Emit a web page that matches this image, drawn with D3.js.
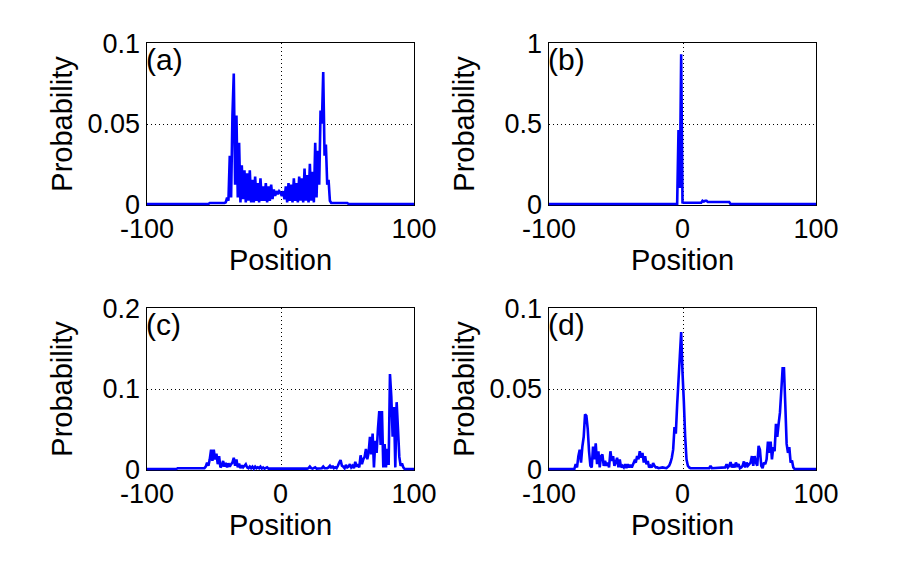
<!DOCTYPE html>
<html>
<head>
<meta charset="utf-8">
<script src="https://cdn.jsdelivr.net/npm/d3@7"></script>
<style>
  body { margin: 0; background: #fff; }
  text { font-family: "Liberation Sans", Arial, Helvetica, sans-serif; fill: #000; }
</style>
</head>
<body>
<div id="chart"></div>
<script>
// figure size
const svgWidth = 914;
const svgHeight = 561;

// x ticks shared by all panels
const xTicks = [-100, 0, 100];
const xTickLabels = ["-100", "0", "100"];

// panel titles
const panelNames = ["(a)", "(b)", "(c)", "(d)"];

// y ticks per panel
const yTicksA = [0, 0.05, 0.1];
const yTickLabelsA = ["0", "0.05", "0.1"];
const yTicksB = [0, 0.5, 1];
const yTickLabelsB = ["0", "0.5", "1"];
const yTicksC = [0, 0.1, 0.2];
const yTickLabelsC = ["0", "0.1", "0.2"];
const yTicksD = [0, 0.05, 0.1];
const yTickLabelsD = ["0", "0.05", "0.1"];

// (a) positions and probabilities
const posA = [-100, -54, -53, -42,
  -41, -40, -39, -38, -37, -36, -35, -34, -33, -32, -31, -30, -29, -28, -27, -26, -25, -24, -23, -22, -21,
  -20, -19, -18, -17, -16, -15, -14, -13, -12, -11, -10, -9, -8, -7, -6, -5, -4, -3, -2, -1, 0,
  1, 2, 3, 4, 5, 6, 7, 8, 9, 10, 11, 12, 13, 14, 15, 16, 17, 18, 19, 20,
  21, 22, 23, 24, 25, 26, 27, 28, 29, 30, 31, 32, 33, 34, 35, 36, 37, 38, 50, 51, 100];
const probA = [0, 0, 0.0006, 0.0006,
  0.001, 0.004, 0.002, 0.03, 0.004, 0.055, 0.081, 0.012, 0.055, 0.004, 0.038, 0.001, 0.024, 0.003, 0.021, 0.001, 0.019, 0.002, 0.021, 0.001, 0.015,
  0.001, 0.017, 0.002, 0.013, 0.001, 0.016, 0.002, 0.011, 0.002, 0.013, 0.001, 0.011, 0.002, 0.012, 0.003, 0.009, 0.005, 0.008, 0.006, 0.008, 0.007,
  0.005, 0.008, 0.003, 0.011, 0.001, 0.013, 0.002, 0.012, 0.001, 0.016, 0.002, 0.013, 0.001, 0.017, 0.002, 0.016, 0.001, 0.022, 0.002, 0.018,
  0.001, 0.025, 0.002, 0.02, 0.001, 0.038, 0.004, 0.033, 0.012, 0.058, 0.05, 0.082, 0.03, 0.037, 0.012, 0.015, 0.002, 0.0006, 0.0006, 0, 0];

// (b)
const posB = [-100, -4, -3, -2, -1, 0, 1, 14, 15, 16, 17, 18, 19, 35, 36, 100];
const probB = [0, 0, 0.46, 0.1, 0.93, 0.01, 0.008, 0.008, 0.02, 0.015, 0.02, 0.02, 0.012, 0.012, 0, 0];

// (c)
const posC = [-100, -78, -77, -57,
  -56, -55, -54, -53, -52, -51, -50, -49, -48, -47, -46, -45, -44, -43, -42, -41, -40, -39, -38, -37, -36,
  -35, -34, -33, -32, -31, -30, -29, -28, -27, -26, -25, -24, -23, -22, -21, -20, -19, -18, -17, -16,
  -15, -14, -13, -12, -10, -9, 20, 21, 22, 23, 24, 26, 27, 31, 32, 33,
  35, 36, 37, 38, 39, 40, 41, 42, 43, 44, 45, 46, 47, 48, 49, 50, 51, 52, 53, 54, 55, 56, 57, 58, 59,
  60, 61, 62, 63, 64, 65, 66, 67, 68, 69, 70, 71, 72, 73, 74, 75, 76, 77, 78, 79,
  80, 81, 82, 83, 84, 85, 86, 87, 88, 89, 90, 91, 92, 93, 100];
const probC = [0, 0, 0.001, 0.001,
  0.003, 0.008, 0.004, 0.012, 0.024, 0.01, 0.024, 0.012, 0.019, 0.006, 0.016, 0.002, 0.004, 0.01, 0.003, 0.0075, 0.002, 0.007, 0.003, 0.006, 0.008,
  0.014, 0.004, 0.012, 0.002, 0.0066, 0.001, 0.0045, 0.002, 0.004, 0.006, 0.002, 0.001, 0.003, 0.001, 0.003, 0.0005, 0.003, 0.001, 0.002, 0.001,
  0.003, 0.0005, 0.002, 0.0005, 0.002, 0.0005, 0.0005, 0.001, 0.003, 0.001, 0.0005, 0.002, 0.0005, 0.001, 0.003, 0.001,
  0.001, 0.002, 0.004, 0.001, 0.004, 0.001, 0.002, 0.001, 0.004, 0.008, 0.011, 0.004, 0.003, 0.001, 0.005, 0.002, 0.003, 0.006, 0.002, 0.004, 0.001, 0.009, 0.003, 0.006, 0.002,
  0.017, 0.006, 0.012, 0.015, 0.025, 0.012, 0.02, 0.04, 0.018, 0.044, 0.002, 0.035, 0.02, 0.05, 0.072, 0.03, 0.072, 0.002, 0.031, 0.002,
  0.025, 0.005, 0.118, 0.09, 0.04, 0.077, 0.002, 0.083, 0.05, 0.015, 0.004, 0.007, 0.002, 0, 0];

// (d)
const posD = [-100, -81,
  -80, -79, -78, -77, -76, -75, -74, -73, -72, -71, -70, -69, -68, -67, -66, -65, -64, -63, -62, -61,
  -60, -59, -58, -57, -56, -55, -54, -53, -52, -51, -50, -49, -48, -47, -46, -45, -44, -43, -42, -41,
  -40, -39, -38, -37, -36, -35, -34, -33, -32, -31, -30, -29, -28, -27, -26, -25, -24, -23, -22, -21,
  -20, -19, -18, -15, -12, -10, -9, -8, -7, -6, -5, -4, -3, -2, -1, 0, 1, 2, 3, 4, 5, 6,
  20, 21, 22, 32, 33, 34, 35, 36, 37, 38, 39, 40, 41, 42, 43, 44, 45, 46, 47, 48, 49, 50,
  51, 52, 53, 54, 55, 56, 57, 58, 59, 60, 61, 62, 63, 64, 65, 66, 67, 68, 69, 70,
  71, 72, 73, 74, 75, 76, 77, 78, 79, 80, 81, 82, 83, 84, 100];
const probD = [0, 0,
  0.003, 0.001, 0.008, 0.012, 0.004, 0.014, 0.02, 0.034, 0.033, 0.025, 0.011, 0.002, 0.001, 0.014, 0.006, 0.016, 0.003, 0.011, 0.001, 0.008,
  0.009, 0.002, 0.005, 0.002, 0.004, 0.001, 0.011, 0.005, 0.008, 0.002, 0.004, 0.007, 0.001, 0.006, 0.001, 0.002, 0.001, 0.003, 0.0005, 0.003,
  0.001, 0.0025, 0.001, 0.003, 0.005, 0.004, 0.008, 0.006, 0.011, 0.007, 0.01, 0.004, 0.008, 0.003, 0.005, 0.001, 0.002, 0.001, 0.0037, 0.002,
  0.001, 0.001, 0.0005, 0.001, 0.0005, 0.002, 0.004, 0.007, 0.012, 0.026, 0.022, 0.04, 0.055, 0.07, 0.085, 0.06, 0.042, 0.02, 0.006, 0.002, 0.001, 0.0005,
  0.0005, 0.002, 0.0005, 0.001, 0.003, 0.001, 0.002, 0.0043, 0.001, 0.003, 0.001, 0.004, 0.002, 0.003, 0.0005, 0.001, 0.002, 0.0047, 0.001, 0.004, 0.002, 0.003,
  0.004, 0.008, 0.002, 0.008, 0.004, 0.002, 0.0144, 0.012, 0.002, 0.0005, 0.004, 0.003, 0.006, 0.017, 0.01, 0.017, 0.006, 0.0136, 0.011, 0.028,
  0.02, 0.028, 0.035, 0.0486, 0.0625, 0.0625, 0.04, 0.0156, 0.01, 0.0136, 0.004, 0.0053, 0.001, 0, 0];

// panel layout (axes boxes in pixels)
const cols = [147, 549];
const rows = [43, 308];
const boxW = 267;
const boxH = 162;

const panels = [
  { name: panelNames[0], pos: posA, prob: probA, ticks: yTicksA, labels: yTickLabelsA, left: cols[0], top: rows[0] },
  { name: panelNames[1], pos: posB, prob: probB, ticks: yTicksB, labels: yTickLabelsB, left: cols[1], top: rows[0] },
  { name: panelNames[2], pos: posC, prob: probC, ticks: yTicksC, labels: yTickLabelsC, left: cols[0], top: rows[1] },
  { name: panelNames[3], pos: posD, prob: probD, ticks: yTicksD, labels: yTickLabelsD, left: cols[1], top: rows[1] }
];

const svg = d3.select("#chart")
  .append("svg")
  .attr("width", svgWidth)
  .attr("height", svgHeight);

svg.append("rect")
  .attr("width", svgWidth)
  .attr("height", svgHeight)
  .attr("fill", "#fff");

panels.forEach(p => {
  const g = svg.append("g")
    .attr("transform", `translate(${p.left}, ${p.top})`);

  const x = d3.scaleLinear()
    .domain([-100, 100])
    .range([0, boxW]);
  const y = d3.scaleLinear()
    .domain([p.ticks[0], p.ticks[p.ticks.length - 1]])
    .range([boxH - 1, 0]);

  // dotted grid at the inner ticks
  g.selectAll(".gx")
    .data(xTicks.slice(1, -1))
    .join("line")
    .attr("x1", d => Math.round(x(d)) + 0.5)
    .attr("x2", d => Math.round(x(d)) + 0.5)
    .attr("y1", 0)
    .attr("y2", boxH)
    .attr("stroke", "#000")
    .attr("stroke-width", 1)
    .attr("stroke-dasharray", "1,3");
  g.selectAll(".gy")
    .data(p.ticks.slice(1, -1))
    .join("line")
    .attr("x1", 0)
    .attr("x2", boxW)
    .attr("y1", d => Math.round(y(d)) + 0.5)
    .attr("y2", d => Math.round(y(d)) + 0.5)
    .attr("stroke", "#000")
    .attr("stroke-width", 1)
    .attr("stroke-dasharray", "1,3");

  // box
  g.append("rect")
    .attr("x", -0.5)
    .attr("y", -0.5)
    .attr("width", boxW + 1)
    .attr("height", boxH + 1)
    .attr("fill", "none")
    .attr("stroke", "#000")
    .attr("stroke-width", 1);

  // probability curve
  const line = d3.line()
    .x((d, i) => x(p.pos[i]))
    .y(d => y(d));
  g.append("path")
    .datum(p.prob)
    .attr("d", line)
    .attr("fill", "none")
    .attr("stroke", "#0000ff")
    .attr("stroke-width", 2.6)
    .attr("stroke-linejoin", "miter")
    .attr("stroke-miterlimit", 2);

  // tick labels
  g.selectAll(".xt")
    .data(xTicks)
    .join("text")
    .attr("x", d => x(d))
    .attr("y", boxH + 33)
    .attr("text-anchor", "middle")
    .attr("font-size", 27)
    .text((d, i) => xTickLabels[i]);
  g.selectAll(".yt")
    .data(p.ticks)
    .join("text")
    .attr("x", -7)
    .attr("y", d => y(d))
    .attr("dy", "0.36em")
    .attr("text-anchor", "end")
    .attr("font-size", 27)
    .text((d, i) => p.labels[i]);

  // axis labels
  g.append("text")
    .attr("x", boxW / 2)
    .attr("y", boxH + 65)
    .attr("text-anchor", "middle")
    .attr("font-size", 29)
    .text("Position");
  g.append("text")
    .attr("transform", `translate(-75, ${boxH / 2}) rotate(-90)`)
    .attr("text-anchor", "middle")
    .attr("font-size", 29)
    .text("Probability");

  // panel letter
  g.append("text")
    .attr("x", -1)
    .attr("y", 26.5)
    .attr("font-size", 30)
    .text(p.name);
});
</script>
</body>
</html>
